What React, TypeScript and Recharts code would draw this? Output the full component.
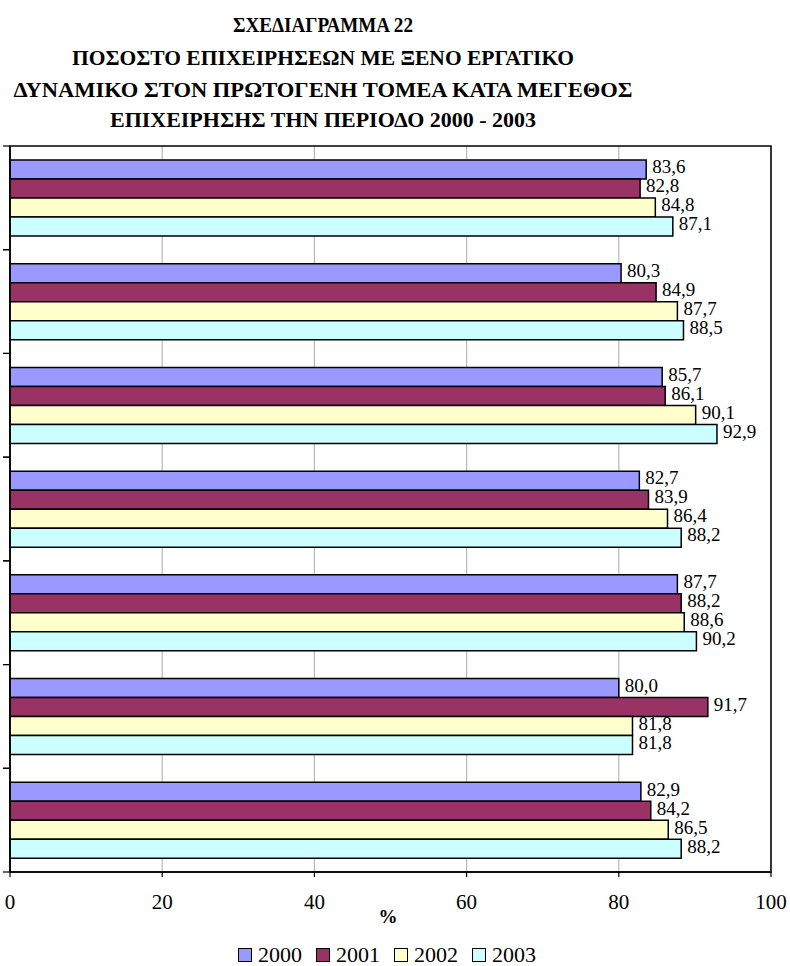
import { BarChart, Bar, XAxis, YAxis, CartesianGrid, ReferenceArea, LabelList } from 'recharts';

// size groups (their names are cut off in the source image)
const groups = ['Ομάδα 1', 'Ομάδα 2', 'Ομάδα 3', 'Ομάδα 4', 'Ομάδα 5', 'Ομάδα 6', 'Ομάδα 7'];
const years = ['2000', '2001', '2002', '2003'];
const y2000 = [83.6, 80.3, 85.7, 82.7, 87.7, 80.0, 82.9];
const y2001 = [82.8, 84.9, 86.1, 83.9, 88.2, 91.7, 84.2];
const y2002 = [84.8, 87.7, 90.1, 86.4, 88.6, 81.8, 86.5];
const y2003 = [87.1, 88.5, 92.9, 88.2, 90.2, 81.8, 88.2];
const xTicks = [0, 20, 40, 60, 80, 100];
const titleLines = [
  'ΣΧΕΔΙΑΓΡΑΜΜΑ 22',
  'ΠΟΣΟΣΤΟ ΕΠΙΧΕΙΡΗΣΕΩΝ ΜΕ ΞΕΝΟ ΕΡΓΑΤΙΚΟ',
  'ΔΥΝΑΜΙΚΟ ΣΤΟΝ ΠΡΩΤΟΓΕΝΗ ΤΟΜΕΑ ΚΑΤΑ ΜΕΓΕΘΟΣ',
  'ΕΠΙΧΕΙΡΗΣΗΣ ΤΗΝ ΠΕΡΙΟΔΟ 2000 - 2003',
];

const colors = ['#9999FF', '#993366', '#FFFFCC', '#CCFFFF'];
const FONT = 'Liberation Serif, DejaVu Serif, serif';

const data = groups.map((g, i) => ({
  group: g,
  y2000: y2000[i],
  y2001: y2001[i],
  y2002: y2002[i],
  y2003: y2003[i],
}));

const CHART_W = 790;
const CHART_H = 966;
const MARGIN = { top: 146, right: 19, bottom: 64, left: 0 };
const X_AXIS_H = 30;
const BAND = (CHART_H - MARGIN.top - MARGIN.bottom - X_AXIS_H) / groups.length;

const fmt = (v: any) => Number(v).toFixed(1).replace('.', ',');

// tick marks sit on the category boundaries, not their centres
function BoundaryTick({ x, y }: any) {
  return (
    <g>
      <line x1={x} x2={x + 7} y1={y - BAND / 2} y2={y - BAND / 2} stroke="#000" strokeWidth={1.2} />
      <line x1={x} x2={x + 7} y1={y + BAND / 2} y2={y + BAND / 2} stroke="#000" strokeWidth={1.2} />
    </g>
  );
}

const titleWidths = [180, 502, 619, 426];
const titleBase = [31.7, 65, 97, 127];

export default function App() {
  return (
    <div style={{ position: 'absolute', left: 0, top: 0, width: CHART_W, height: CHART_H, background: '#fff', fontFamily: FONT }}>
      <svg width={CHART_W} height={140} style={{ position: 'absolute', left: 0, top: 0 }}>
        {titleLines.map((t, i) => (
          <text
            key={i}
            x={323}
            y={titleBase[i]}
            textAnchor="middle"
            style={{ fontFamily: FONT, fontWeight: 'bold', fontSize: 22 }}
            textLength={titleWidths[i]}
            lengthAdjust="spacingAndGlyphs"
          >
            {t}
          </text>
        ))}
      </svg>

      <BarChart
        width={CHART_W}
        height={CHART_H}
        data={data}
        layout="vertical"
        margin={MARGIN}
        barCategoryGap="13.5%"
        barGap={0}
        style={{ position: 'absolute', left: 0, top: 0, fontFamily: FONT }}
      >
        <CartesianGrid horizontal={false} stroke="#b8b8b8" strokeWidth={1.2} />
        <XAxis
          type="number"
          domain={[0, 100]}
          ticks={xTicks}
          height={X_AXIS_H}
          axisLine={{ stroke: '#000', strokeWidth: 1.5 }}
          tickLine={{ stroke: '#000', strokeWidth: 1.2 }}
          tickSize={5}
          tickMargin={17}
          tick={{ fill: '#000', fontSize: 21, fontFamily: FONT }}
          interval={0}
        />
        <YAxis
          type="category"
          dataKey="group"
          width={10}
          axisLine={{ stroke: '#000', strokeWidth: 1.5 }}
          tickLine={false}
          tickSize={7}
          tickMargin={0}
          tick={<BoundaryTick />}
        />
        <ReferenceArea x1={0} x2={100} fill="none" stroke="#000" strokeWidth={1.5} ifOverflow="visible" />
        {years.map((yr, i) => (
          <Bar
            key={yr}
            dataKey={`y${yr}`}
            fill={colors[i]}
            stroke="#000"
            strokeWidth={1.5}
            isAnimationActive={false}
          >
            <LabelList
              dataKey={`y${yr}`}
              position="right"
              offset={6}
              formatter={fmt}
              fill="#000"
              fontSize={19}
              fontFamily={FONT}
              dy={-3}
            />
          </Bar>
        ))}
      </BarChart>

      <div
        style={{
          position: 'absolute',
          left: 0,
          width: 776,
          top: 905,
          textAlign: 'center',
          fontWeight: 'bold',
          fontSize: 19,
          lineHeight: '24px',
        }}
      >
        %
      </div>

      <div
        style={{
          position: 'absolute',
          left: 238,
          top: 942,
          display: 'flex',
          alignItems: 'center',
          fontSize: 22,
          lineHeight: '26px',
        }}
      >
        {years.map((yr, i) => (
          <div key={yr} style={{ display: 'flex', alignItems: 'center', width: i < 3 ? 78 : 'auto' }}>
            <span
              style={{
                display: 'inline-block',
                width: 12,
                height: 12,
                background: colors[i],
                border: '1.5px solid #000',
                marginRight: 6,
              }}
            />
            <span>{yr}</span>
          </div>
        ))}
      </div>
    </div>
  );
}
